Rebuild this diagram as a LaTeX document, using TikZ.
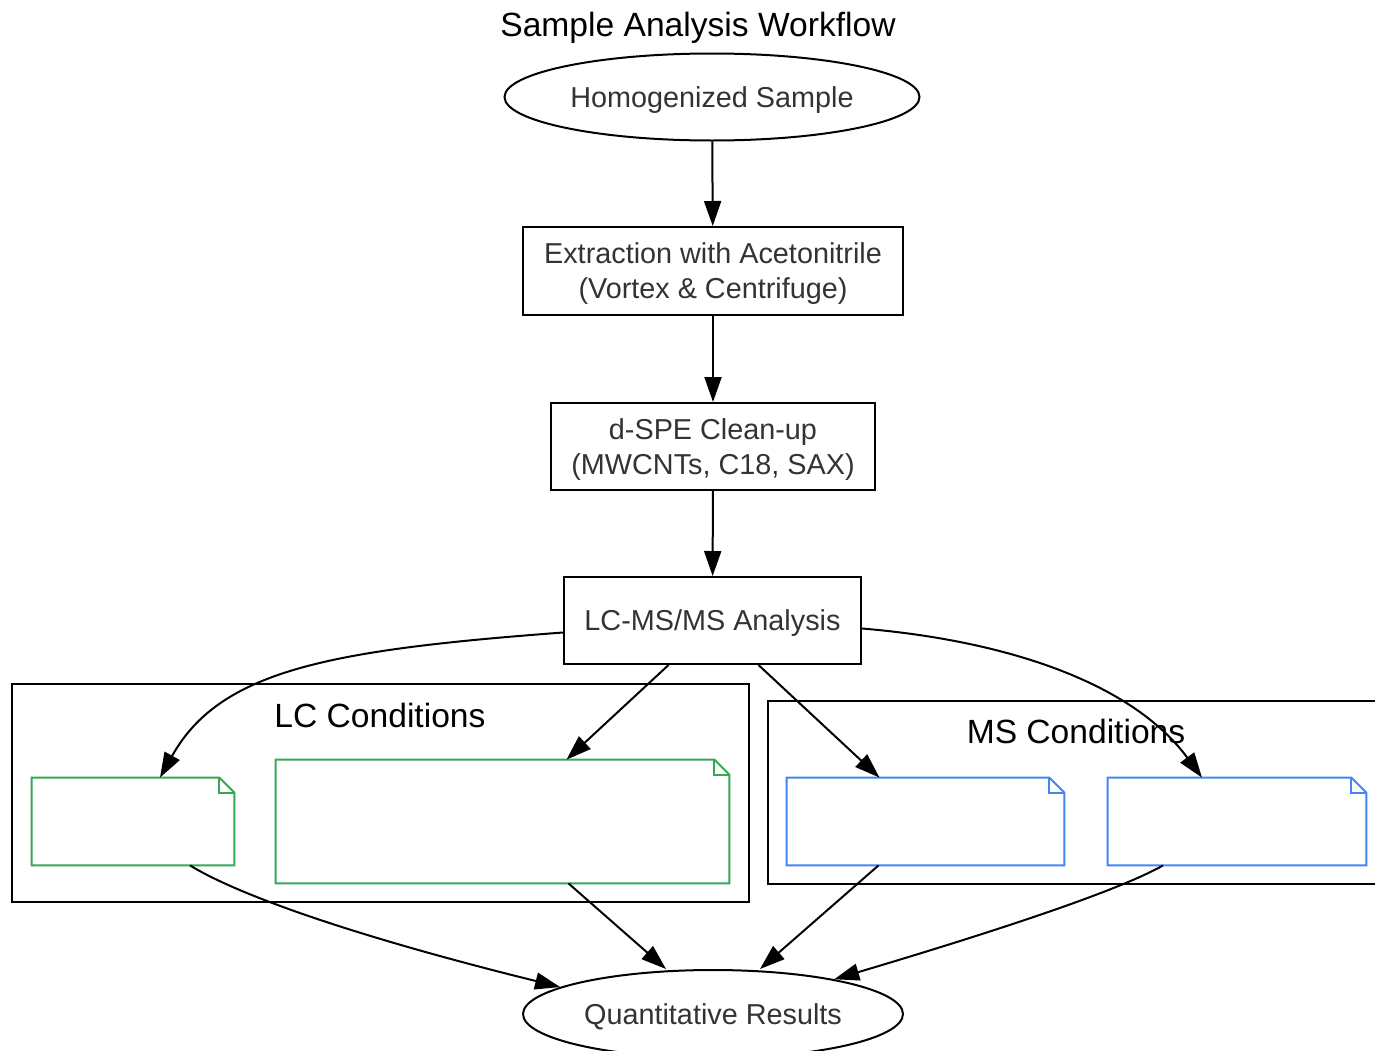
\documentclass[tikz,border=0pt]{standalone}
\usepackage{fontspec}
\setmainfont{Liberation Sans}
\usepackage{xcolor}
\usetikzlibrary{arrows.meta,shapes.geometric}
\definecolor{txtgray}{HTML}{333333}
\definecolor{lcgreen}{HTML}{34A853}
\definecolor{msblue}{HTML}{4285F4}
\newcommand{\notebox}[2]{%
  \path[draw, #2, line width=1pt] (#1.north west) -- ([xshift=-7.5pt]#1.north east)
    -- ([yshift=-7.5pt]#1.north east) -- (#1.south east) -- (#1.south west) -- cycle;
  \path[draw, #2, line width=1pt] ([xshift=-7.5pt]#1.north east) |- ([yshift=-7.5pt]#1.north east);}

\begin{document}
\begin{tikzpicture}[x = 0.5pt, y = -0.5pt, every text node part/.style={align=center}]
			\tikzstyle{txt} = [text = txtgray, font = \fontsize{14.4}{17.5}\selectfont, text depth = 0pt]
			\tikzstyle{oval} = [txt, draw, ellipse, line width = 1pt, inner sep = 0pt]
			\tikzstyle{proc} = [txt, draw, rectangle, line width = 1pt, inner sep = 0pt]
			\tikzstyle{cluster} = [draw, rectangle, line width = 1pt, inner sep = 0pt]
			\tikzstyle{head} = [font = \fontsize{16.8}{20}\selectfont]
			\tikzstyle{note} = [rectangle, inner sep = 0pt, minimum height = 43.5pt]
			\tikzstyle{arr} = [draw, line width = 1pt, -{Triangle[length = 12.5pt, width = 8.5pt]}]
			\useasboundingbox (0, 0) rectangle (1375, 1050);

			\path (698, 28) node[head] (title) {Sample Analysis Workflow};
			\path (712, 97) node[oval, minimum width = 207.5pt, minimum height = 43.5pt] (homog) {Homogenized Sample};
			\path (713, 271) node[proc, minimum width = 190pt, minimum height = 44pt] (extr) {Extraction with Acetonitrile\\(Vortex \& Centrifuge)};
			\path (713, 446.5) node[proc, minimum width = 162pt, minimum height = 43.5pt] (dspe) {d-SPE Clean-up\\(MWCNTs, C18, SAX)};
			\path (712.5, 620.5) node[proc, minimum width = 148.5pt, minimum height = 43.5pt] (lcms) {LC-MS/MS Analysis};

			\path (380.5, 793) node[cluster, minimum width = 368.5pt, minimum height = 109pt] (lcbox) {};
			\path (380, 715) node[head] (lclabel) {LC Conditions};
			\path (1072, 792.5) node[cluster, minimum width = 304pt, minimum height = 91.5pt] (msbox) {};
			\path (1076, 731) node[head] (mslabel) {MS Conditions};

			\path (133, 821.5) node[note, minimum width = 101pt] (lcA) {};
			\path (502.5, 821.5) node[note, minimum width = 226.5pt, minimum height = 61.5pt] (lcB) {};
			\path (925.5, 821.5) node[note, minimum width = 138.5pt] (msA) {};
			\path (1237, 821.5) node[note, minimum width = 129pt] (msB) {};
			\notebox{lcA}{lcgreen}
			\notebox{lcB}{lcgreen}
			\notebox{msA}{msblue}
			\notebox{msB}{msblue}

			\path (713, 1014) node[oval, minimum width = 190pt, minimum height = 44pt] (quant) {Quantitative Results};

			\path[arr] (homog) -- (extr);
			\path[arr] (extr) -- (dspe);
			\path[arr] (dspe) -- (lcms);

			\path[arr] ([yshift = -6pt]lcms.west) .. controls (330, 650) and (220, 670) .. ([xshift = 13.5pt]lcA.north);
			\path[arr] ([xshift = -22pt]lcms.south) -- ([xshift = 32pt]lcB.north);
			\path[arr] ([xshift = 23pt]lcms.south) -- ([xshift = -23pt]msA.north);
			\path[arr] ([yshift = -4pt]lcms.east) .. controls (1000, 640) and (1130, 680) .. ([xshift = -17.5pt]msB.north);

			\path[arr] ([xshift = 28.5pt]lcA.south) .. controls (230, 890) and (330, 930) .. (quant.170);
			\path[arr] ([xshift = 33pt]lcB.south) -- ([xshift = -23.5pt]quant.north);
			\path[arr] ([xshift = -23.5pt]msA.south) -- ([xshift = 23.5pt]quant.north);
			\path[arr] ([xshift = -37pt]msB.south) .. controls (1120, 890) and (1000, 930) .. (quant.16);
		\end{tikzpicture}
\end{document}
